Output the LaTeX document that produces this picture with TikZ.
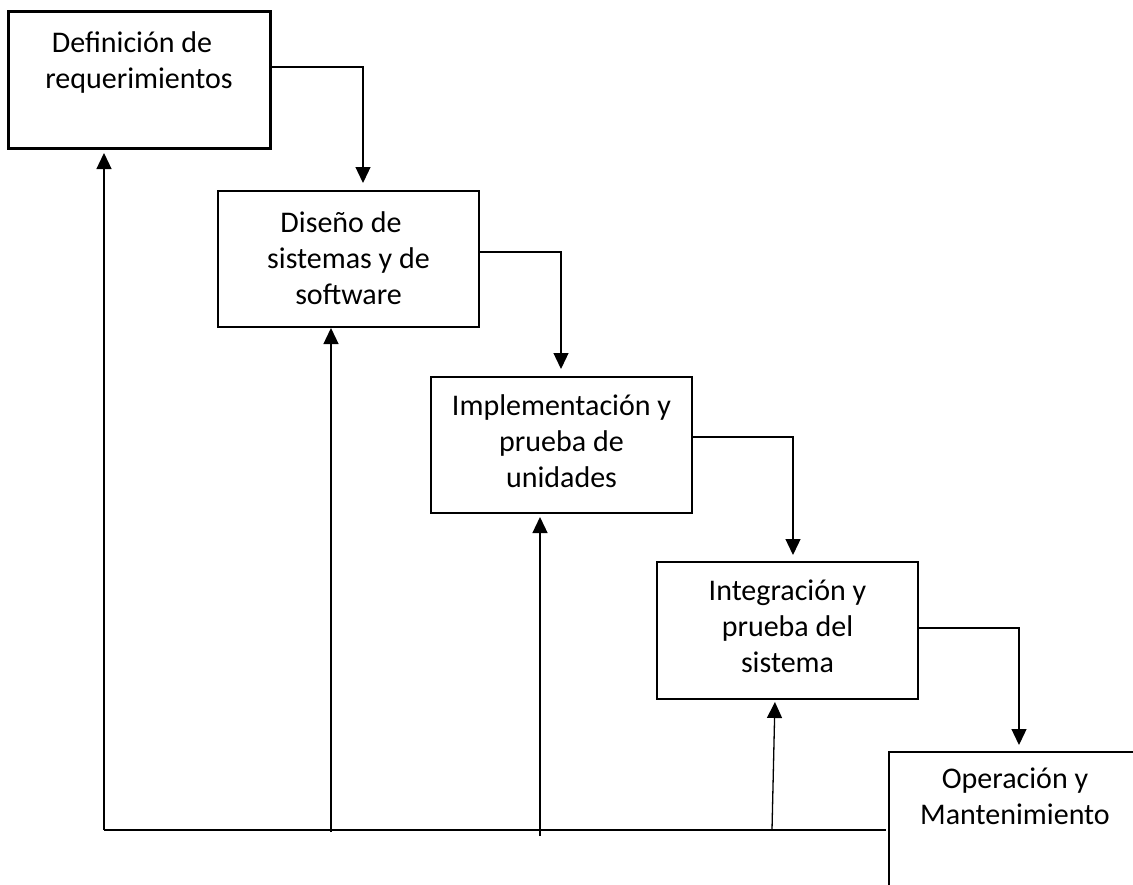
\documentclass[tikz,border=0pt]{standalone}
\usepackage{fontspec}
\setmainfont{Carlito}
\usetikzlibrary{arrows.meta}
\begin{document}
\begin{tikzpicture}[x=1pt,y=-1pt,
  phase/.style={draw=black, line width=1.3pt, minimum width=261pt, minimum height=137pt,
                inner sep=0pt, outer sep=0pt, anchor=north west},
  lbl/.style={anchor=north, inner sep=0pt, align=center, font=\fontsize{30}{36}\selectfont},
  flow/.style={line width=1.3pt, -{Triangle[length=16pt,width=15pt]}},
  wire/.style={line width=1.3pt}]
\useasboundingbox (0,0) rectangle (1133,884);
\fill[white] (0,0) rectangle (1133,884);

% phases of the waterfall
\node[phase, line width=3pt, minimum width=262pt] (b1) at (8,11) {};
\node[phase, minimum height=136pt] (b2) at (218,191) {};
\node[phase, minimum height=136pt] (b3) at (431,377) {};
\node[phase] (b4) at (657,562) {};
\begin{scope}
  \clip (0,0) rectangle (1133,884);
  \node[phase, minimum width=252pt, minimum height=180pt] (b5) at (889,752) {};
\end{scope}

% phase names
\node[lbl] (t1) at ([yshift=-16pt]b1.north) {\strut Definición de\hspace*{14pt}\\requerimientos};
\node[lbl] (t2) at ([yshift=-16pt]b2.north) {\strut Diseño de\hspace*{15pt}\\sistemas y de\\software};
\node[lbl] (t3) at ([yshift=-13pt]b3.north) {\strut Implementación y\\prueba de\\unidades};
\node[lbl] (t4) at ([yshift=-13pt]b4.north) {\strut Integración y\\prueba del\\sistema};
\node[lbl] (t5) at ([yshift=-11pt]b5.north) {\strut Operación y\\Mantenimiento};

% forward flow between phases
\draw[flow, shorten >=8pt] ([yshift=-56pt]b1.north east) -| ([xshift=145pt]b2.north west);
\draw[flow, shorten >=8pt] ([yshift=-61pt]b2.north east) -| ([xshift=130pt]b3.north west);
\draw[flow, shorten >=7pt] ([yshift=-60pt]b3.north east) -| ([xshift=136pt]b4.north west);
\draw[flow, shorten >=7pt] ([yshift=-66pt]b4.north east) -| ([xshift=130pt]b5.north west);

% feedback to earlier phases
\coordinate (fL) at (104,830);
\coordinate (fR) at (886,830);
\coordinate (f2) at (331,832);
\coordinate (f3) at (540,836);
\coordinate (f4) at (772,830);
\draw[wire] (fL) -- (fR);
\draw[flow, shorten >=5pt] (fL) -- (b1.south -| fL);
\draw[flow, shorten >=1pt] (f2) -- (b2.south -| f2);
\draw[flow, shorten >=4pt] (f3) -- (b3.south -| f3);
\draw[flow, shorten >=3pt] (f4) -- ([xshift=118pt]b4.south west);
\end{tikzpicture}
\end{document}
